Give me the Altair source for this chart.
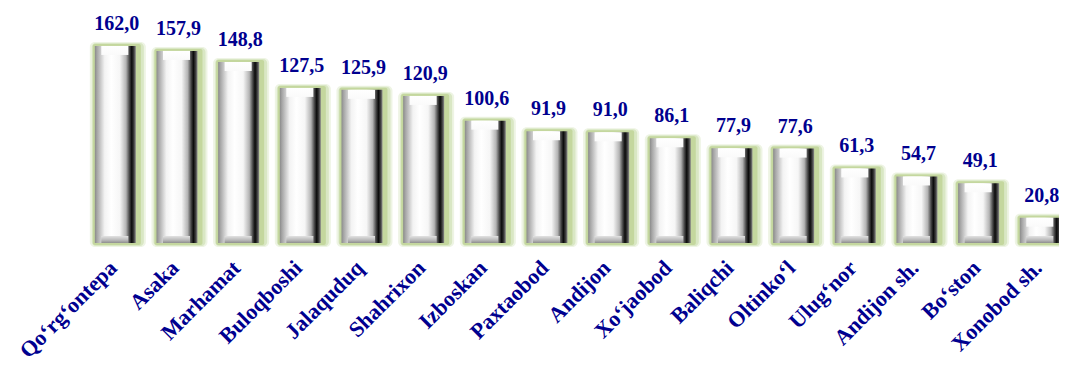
import json
import altair as alt
import pandas as pd

districts = ["Qo‘rg‘ontepa", "Asaka", "Marhamat", "Buloqboshi", "Jalaquduq",
             "Shahrixon", "Izboskan", "Paxtaobod", "Andijon", "Xo‘jaobod",
             "Baliqchi", "Oltinko‘l", "Ulug‘nor", "Andijon sh.", "Bo‘ston",
             "Xonobod sh."]
values = [162.0, 157.9, 148.8, 127.5, 125.9, 120.9, 100.6, 91.9, 91.0, 86.1,
          77.9, 77.6, 61.3, 54.7, 49.1, 20.8]

df = pd.DataFrame({
    "idx": list(range(len(districts))),
    "district": districts,
    "value": values,
    "zero": [0.0] * len(values),
    "label": [f"{v:.1f}".replace(".", ",") for v in values],
})

TXT = "#00008f"
FONT = "Liberation Serif"

x = alt.X(
    "idx:Q",
    scale=alt.Scale(domain=[-0.5, 15.198], nice=False, zero=False),
    axis=alt.Axis(
        values=list(range(len(districts))),
        labelExpr=json.dumps(districts, ensure_ascii=False) + "[datum.value]",
        labelAngle=-45, labelAlign="right", labelBaseline="middle",
        labelPadding=21, labelOffset=-4, ticks=False, domain=False, grid=False,
        labelFont=FONT, labelFontSize=22, labelFontWeight="bold",
        labelColor=TXT, labelOverlap=False, labelFlush=False, labelBound=False,
    ),
    title=None,
)
y = alt.Y("value:Q", scale=alt.Scale(domain=[0, 189.1], nice=False), axis=None)
y0 = alt.Y("zero:Q", scale=alt.Scale(domain=[0, 189.1], nice=False), axis=None)
y2zero = alt.Y2("zero:Q")

base = alt.Chart(df)


def grad(stops, horizontal=True):
    return {
        "gradient": "linear",
        "x1": 0, "y1": 0,
        "x2": 1 if horizontal else 0, "y2": 0 if horizontal else 1,
        "stops": [{"offset": o, "color": c} for o, c in stops],
    }


glow_outer = base.mark_bar(orient="vertical", size=56, xOffset=1, yOffset=-4, y2Offset=4,
                           cornerRadius=5, color="#eef4e4").encode(x=x, y=y, y2=y2zero)
glow_mid = base.mark_bar(orient="vertical", size=52, xOffset=1, yOffset=-3, y2Offset=3,
                         cornerRadius=4, color="#d9e7c4").encode(x=x, y=y, y2=y2zero)
glow_inner = base.mark_bar(orient="vertical", size=48, xOffset=0, yOffset=-2, y2Offset=2,
                           cornerRadius=2, color="#c4d79e").encode(x=x, y=y, y2=y2zero)

body = base.mark_bar(
    orient="vertical", size=41, xOffset=-1.5,
    color=grad([(0, "#8a8a8a"), (0.05, "#a4a4a4"), (0.24, "#f3f3f3"),
                (0.4, "#ffffff"), (0.61, "#f6f6f6"), (0.76, "#b4b4b4"),
                (0.85, "#404040"), (0.9, "#0a0a0a"), (0.95, "#3a3a3a"), (1, "#8a8a8a")]),
).encode(x=x, y=y, y2=y2zero)

top_bevel = base.mark_bar(
    orient="vertical", size=27, xOffset=-2, y2Offset=9,
    color=grad([(0, "#ffffff"), (1, "#fafafa")], horizontal=False),
).encode(x=x, y=y, y2=alt.Y2("value:Q"))

bottom_bevel = base.mark_bar(
    orient="vertical", size=27, xOffset=-2, yOffset=-7,
    color=grad([(0, "#e2e2e2"), (0.6, "#b8b8b8"), (1, "#8e8e8e")], horizontal=False),
).encode(x=x, y=y0, y2=y2zero)

labels = base.mark_text(
    dy=-16, baseline="alphabetic", align="center", font=FONT, fontSize=20,
    fontWeight="bold", color=TXT,
).encode(x=x, y=y, text="label:N")

chart = alt.layer(glow_outer, glow_mid, glow_inner, body, top_bevel, bottom_bevel, labels).properties(
    width=978, height=230,
    autosize=alt.AutoSizeParams(type="none"),
    padding={"left": 73, "top": 5, "right": 0, "bottom": 122},
    background="white",
).configure_view(stroke=None)

chart.save("out.html", embed_options={"renderer": "svg", "actions": False})
